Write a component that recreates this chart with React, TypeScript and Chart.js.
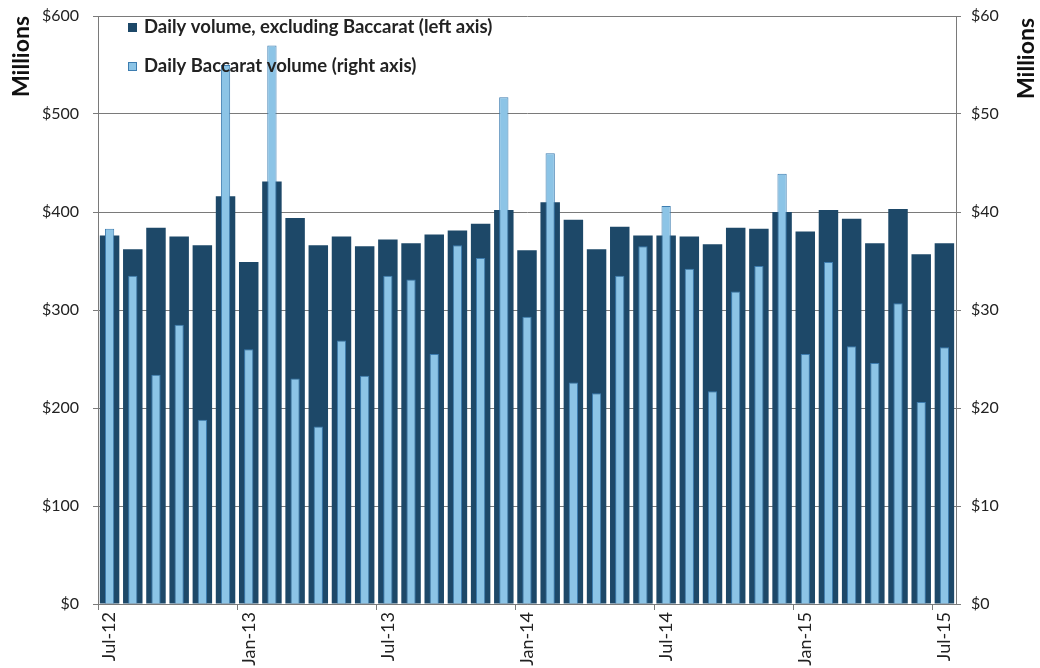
import React, { useEffect, useRef } from "react";
import { Chart, registerables } from "chart.js";

Chart.register(...registerables);

const months: string[] = [
  "Jul-12", "Aug-12", "Sep-12", "Oct-12", "Nov-12", "Dec-12",
  "Jan-13", "Feb-13", "Mar-13", "Apr-13", "May-13", "Jun-13",
  "Jul-13", "Aug-13", "Sep-13", "Oct-13", "Nov-13", "Dec-13",
  "Jan-14", "Feb-14", "Mar-14", "Apr-14", "May-14", "Jun-14",
  "Jul-14", "Aug-14", "Sep-14", "Oct-14", "Nov-14", "Dec-14",
  "Jan-15", "Feb-15", "Mar-15", "Apr-15", "May-15", "Jun-15",
  "Jul-15",
];

// Left axis, $ millions
const dailyExBaccarat: number[] = [
  376, 362, 384, 375, 366, 416,
  349, 431, 394, 366, 375, 365,
  372, 368, 377, 381, 388, 402,
  361, 410, 392, 362, 385, 376,
  376, 375, 367, 384, 383, 400,
  380, 402, 393, 368, 403, 357,
  368,
];

// Right axis, $ millions
const dailyBaccarat: number[] = [
  38.3, 33.5, 23.4, 28.5, 18.8, 55.0,
  26.0, 57.0, 23.0, 18.1, 26.9, 23.3,
  33.5, 33.1, 25.5, 36.6, 35.3, 51.7,
  29.3, 46.0, 22.6, 21.5, 33.5, 36.5,
  40.6, 34.2, 21.7, 31.9, 34.5, 43.9,
  25.5, 34.9, 26.3, 24.6, 30.7, 20.6,
  26.2,
];

const legendLabels: string[] = [
  "Daily volume, excluding Baccarat (left axis)",
  "Daily Baccarat volume (right axis)",
];

const axisTitle = "Millions";

const DARK = "#1d4868";
const LIGHT = "#8cc4e6";
const LIGHT_BORDER = "#3d7db0";
const GRID = "#7a7a7a";
const TEXT = "#222222";
const FONT = "Lato, 'Open Sans', sans-serif";

export default function App() {
  const canvasRef = useRef<HTMLCanvasElement | null>(null);

  useEffect(() => {
    document.body.style.margin = "0";
    const canvas = canvasRef.current;
    if (!canvas) return;

    const overlayPlugin = {
      id: "overlayText",
      afterDatasetsDraw(chart: any) {
        const ctx = chart.ctx;
        const area = chart.chartArea;
        ctx.save();
        ctx.font = `bold 18.5px ${FONT}`;
        ctx.textBaseline = "middle";
        ctx.textAlign = "left";
        const x0 = area.left + 30;
        const ys = [area.top + 11, area.top + 50];
        legendLabels.forEach((label, i) => {
          const y = ys[i];
          if (i === 0) {
            ctx.fillStyle = DARK;
            ctx.fillRect(x0, y - 4, 9, 9);
          } else {
            ctx.fillStyle = LIGHT;
            ctx.fillRect(x0, y - 4, 9, 9);
            ctx.strokeStyle = LIGHT_BORDER;
            ctx.lineWidth = 1;
            ctx.strokeRect(x0 + 0.5, y - 3.5, 8, 8);
          }
          ctx.fillStyle = TEXT;
          ctx.fillText(label, x0 + 16, y);
        });
        ctx.restore();

        // right-hand axis title, reading bottom-to-top like the left one
        ctx.save();
        ctx.font = `bold 23px ${FONT}`;
        ctx.fillStyle = "#111";
        ctx.textBaseline = "middle";
        ctx.textAlign = "right";
        ctx.translate(1027, 18);
        ctx.rotate(-Math.PI / 2);
        ctx.fillText(axisTitle, 0, 0);
        ctx.restore();
      },
    };

    const chart = new Chart(canvas, {
      type: "bar",
      data: {
        labels: months,
        datasets: [
          {
            label: legendLabels[0],
            data: dailyExBaccarat,
            yAxisID: "yLeft",
            backgroundColor: DARK,
            borderWidth: 0,
            grouped: false,
            barPercentage: 0.84,
            categoryPercentage: 1,
            order: 2,
          },
          {
            label: legendLabels[1],
            data: dailyBaccarat,
            yAxisID: "yRight",
            backgroundColor: LIGHT,
            borderColor: LIGHT_BORDER,
            borderWidth: 1,
            grouped: false,
            barPercentage: 0.4,
            categoryPercentage: 1,
            order: 1,
          },
        ],
      },
      options: {
        animation: false,
        responsive: false,
        maintainAspectRatio: false,
        layout: { padding: { top: 16, left: 0, right: 0, bottom: 0 } },
        plugins: {
          legend: { display: false },
          tooltip: { enabled: false },
        },
        scales: {
          x: {
            offset: true,
            grid: {
              offset: true,
              drawOnChartArea: false,
              tickLength: 6,
              color: (c: any) => (c.index % 6 === 0 ? GRID : "rgba(0,0,0,0)"),
            },
            border: { color: GRID },
            ticks: {
              autoSkip: false,
              maxRotation: 90,
              minRotation: 90,
              padding: 2,
              color: TEXT,
              font: { family: FONT, size: 18 },
              callback: (_v: any, i: number) => (i % 6 === 0 ? months[i] : ""),
            },
            afterFit: (s: any) => {
              s.height = 64;
              s.paddingLeft = 0;
              s.paddingRight = 0;
            },
          },
          yLeft: {
            position: "left",
            min: 0,
            max: 600,
            ticks: {
              stepSize: 100,
              padding: 14,
              color: TEXT,
              font: { family: FONT, size: 16 },
              callback: (v: any) => "$" + v,
            },
            grid: { color: GRID, tickLength: 5 },
            border: { color: GRID },
            title: {
              display: true,
              text: axisTitle,
              align: "end",
              color: "#111",
              font: { family: FONT, size: 23, weight: "bold" },
              padding: { top: 8, bottom: 0 },
            },
            afterFit: (s: any) => {
              s.width = 98;
              s.paddingTop = 0;
              s.paddingBottom = 0;
            },
          },
          yRight: {
            position: "right",
            min: 0,
            max: 60,
            ticks: {
              stepSize: 10,
              padding: 10,
              color: TEXT,
              font: { family: FONT, size: 16 },
              callback: (v: any) => "$" + v,
            },
            grid: { drawOnChartArea: false, color: GRID, tickLength: 5 },
            border: { color: GRID },
            afterFit: (s: any) => {
              s.width = 84;
              s.paddingTop = 0;
              s.paddingBottom = 0;
            },
          },
        },
      },
      plugins: [overlayPlugin],
    });

    return () => chart.destroy();
  }, []);

  return (
    <div style={{ position: "relative", width: 1040, height: 668, background: "#fff" }}>
      <canvas ref={canvasRef} width={1040} height={668} style={{ display: "block" }} />
    </div>
  );
}
